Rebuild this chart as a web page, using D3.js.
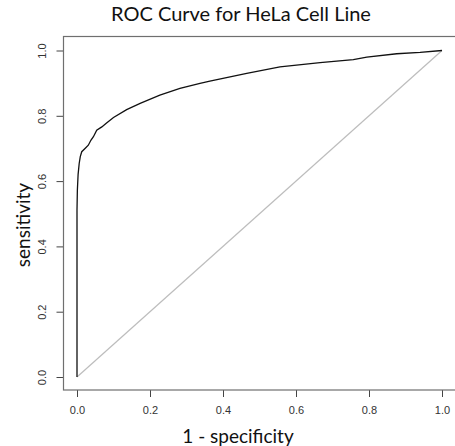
<!DOCTYPE html>
<html>
<head>
<meta charset="utf-8">
<script src="https://cdn.jsdelivr.net/npm/d3@7"></script>
<style>
  body { margin: 0; background: #fff; }
  svg { display: block; }
</style>
</head>
<body>
<svg id="chart" width="455" height="446"></svg>
<script>
// ROC points
const fpr = [0, 0, 0, 0.001, 0.003, 0.006, 0.009, 0.013, 0.022, 0.031, 0.038, 0.045, 0.054, 0.068, 0.081, 0.10,
    0.136, 0.173, 0.227, 0.282, 0.337, 0.364, 0.465, 0.556, 0.666, 0.757, 0.794, 0.876, 0.94, 1.0];
const tpr = [0, 0.28, 0.511, 0.572, 0.62, 0.654, 0.675, 0.690, 0.700, 0.710, 0.725, 0.736, 0.756, 0.766, 0.778, 0.795,
    0.819, 0.838, 0.863, 0.884, 0.899, 0.906, 0.930, 0.950, 0.963, 0.972, 0.980, 0.990, 0.994, 1.0];
const xTicks = [0, 0.2, 0.4, 0.6, 0.8, 1.0];
const yTicks = [0, 0.2, 0.4, 0.6, 0.8, 1.0];

const svg = d3.select("#chart");

const x = d3.scaleLinear().domain([0, 1]).range([77, 442]);
const y = d3.scaleLinear().domain([0, 1]).range([377, 50.5]);

const box = { left: 63.5, top: 36.5, right: 460, bottom: 390 };

// axes (R style: ticks outside, no domain line)
const xAxis = d3.axisBottom(x).tickValues(xTicks).tickFormat(d3.format(".1f")).tickSize(7).tickPadding(9);
const yAxis = d3.axisLeft(y).tickValues(yTicks).tickFormat(d3.format(".1f")).tickSize(7);

const gx = svg.append("g").attr("transform", `translate(0,${box.bottom})`).call(xAxis);
const gy = svg.append("g").attr("transform", `translate(${box.left},0)`).call(yAxis);

[gx, gy].forEach(g => {
    g.select(".domain").remove();
    g.selectAll(".tick line").attr("stroke", "#444");
    g.selectAll(".tick text")
        .attr("fill", "#333")
        .style("font-family", "'Liberation Sans', Arial, sans-serif")
        .style("font-size", "11px");
});

// y tick labels are rotated, as in base R
gy.selectAll(".tick text")
    .attr("x", 0).attr("y", 0)
    .attr("transform", "translate(-21,0) rotate(-90)")
    .attr("dy", "0.35em")
    .style("text-anchor", "middle");

// plot box (right side runs off the picture)
svg.append("rect")
    .attr("x", box.left)
    .attr("y", box.top)
    .attr("width", box.right - box.left)
    .attr("height", box.bottom - box.top)
    .attr("fill", "none")
    .attr("stroke", "#6f6f6f")
    .attr("stroke-width", 1.2);

// diagonal reference
svg.append("line")
    .attr("x1", x(0)).attr("y1", y(0))
    .attr("x2", x(1)).attr("y2", y(1))
    .attr("stroke", "#bdbdbd")
    .attr("stroke-width", 1.2);

// ROC curve
const pts = fpr.map((f, i) => [f, tpr[i]]);
svg.append("path")
    .datum(pts)
    .attr("d", d3.line().x(d => x(d[0])).y(d => y(d[1])))
    .attr("fill", "none")
    .attr("stroke", "#111")
    .attr("stroke-width", 1.3);

// titles
const labelFont = "Lato, 'Open Sans', sans-serif";

svg.append("text")
    .attr("x", 241).attr("y", 21)
    .attr("text-anchor", "middle")
    .style("font-family", labelFont)
    .style("font-size", "20px")
    .attr("fill", "#111")
    .text("ROC Curve for HeLa Cell Line");

svg.append("text")
    .attr("x", 238).attr("y", 443)
    .attr("text-anchor", "middle")
    .style("font-family", labelFont)
    .style("font-size", "19px")
    .attr("fill", "#111")
    .text("1 - specificity");

svg.append("text")
    .attr("transform", "translate(30,225) rotate(-90)")
    .attr("text-anchor", "middle")
    .style("font-family", labelFont)
    .style("font-size", "19px")
    .attr("fill", "#111")
    .text("sensitivity");
</script>
</body>
</html>
